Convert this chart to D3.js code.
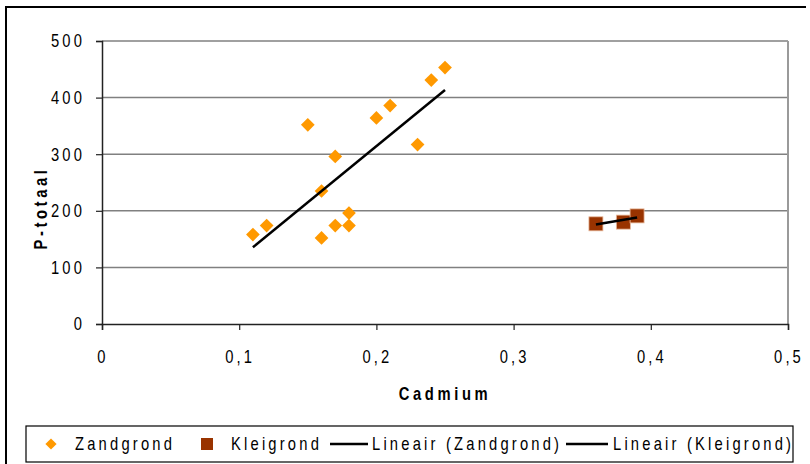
<!DOCTYPE html>
<html>
<head>
<meta charset="utf-8">
<script src="https://cdn.jsdelivr.net/npm/d3@7"></script>
<style>
  html, body { margin: 0; padding: 0; background: #fff; }
  svg { display: block; }
  text { font-family: "Liberation Sans", Arial, sans-serif; fill: #000; }
  .tick { font-size: 18px; letter-spacing: 3.8px; }
  .title { font-size: 18px; font-weight: bold; letter-spacing: 4.4px; }
  .leg { font-size: 18px; letter-spacing: 3.9px; }
</style>
</head>
<body>
<svg id="chart" width="810" height="464"></svg>
<script>
// Cadmium vs P-totaal, two soil types + linear trend per type
const zandCd = [0.11, 0.12, 0.15, 0.16, 0.16, 0.17, 0.17, 0.18, 0.18, 0.20, 0.21, 0.23, 0.24, 0.25];
const zandP  = [158,  174,  352,  235,  152,  296,  174,  196,  174,  364,  386,  317,  431,  453];
const kleiCd = [0.36, 0.38, 0.39];
const kleiP  = [177,  180,  191];

const xTicks      = [0, 0.1, 0.2, 0.3, 0.4, 0.5];
const xTickLabels = ['0', '0,1', '0,2', '0,3', '0,4', '0,5'];
const yTicks      = [0, 100, 200, 300, 400, 500];
const legendNames = ['Zandgrond', 'Kleigrond', 'Lineair (Zandgrond)', 'Lineair (Kleigrond)'];

const ORANGE = '#FF9900', BROWN = '#993300';
const L = 102, R = 788, T = 41, B = 324;
const NARROW = 0.82;   // squeeze Liberation Sans to look like Arial Narrow

const svg = d3.select('#chart');
const x = d3.scaleLinear().domain([0, 0.5]).range([L, R]);
const y = d3.scaleLinear().domain([0, 500]).range([B, T]);

// place a squeezed text; rot = optional rotation
const nt = (sel, px, py, rot) =>
  sel.attr('transform', (d, i) => {
    const X = typeof px === 'function' ? px(d, i) : px, Y = typeof py === 'function' ? py(d, i) : py;
    return `translate(${X},${Y})${rot ? ` rotate(${rot})` : ''} scale(${NARROW},1)`;
  });

// outer chart frame (cut off right/bottom in the original)
svg.append('path').attr('d', 'M806,7H6V464')
  .attr('fill', 'none').attr('stroke', '#000').attr('stroke-width', 2);

// gridlines + right border of plot area
svg.append('g').selectAll('line').data(yTicks.filter(v => v > 0)).join('line')
  .attr('x1', L).attr('x2', R).attr('y1', d => y(d)).attr('y2', d => y(d))
  .attr('stroke', '#808080').attr('stroke-width', 1.5);
svg.append('line').attr('x1', R).attr('x2', R).attr('y1', T).attr('y2', B)
  .attr('stroke', '#9a9a9a').attr('stroke-width', 2);

// axes
const yAxis = d3.axisLeft(y).tickValues(yTicks).tickSize(6).tickFormat('');
const xAxis = d3.axisBottom(x).tickValues(xTicks).tickSize(6).tickFormat('');
const gy = svg.append('g').attr('transform', `translate(${L},0)`).call(yAxis);
const gx = svg.append('g').attr('transform', `translate(0,${B})`).call(xAxis);
[gy, gx].forEach(g => {
  g.select('.domain').attr('stroke', '#222').attr('stroke-width', 1.5);
  g.selectAll('.tick line').attr('stroke', '#222').attr('stroke-width', 1.2);
});

// tick labels (comma decimals)
svg.append('g').selectAll('text').data(yTicks).join('text')
  .attr('class', 'tick').attr('text-anchor', 'end').attr('dy', '0.36em')
  .call(nt, 85, d => y(d))
  .text(d => d);
svg.append('g').selectAll('text').data(xTicks).join('text')
  .attr('class', 'tick').attr('text-anchor', 'middle')
  .call(nt, d => x(d) + 1, 363)
  .text((d, i) => xTickLabels[i]);

// axis titles
svg.append('text').attr('class', 'title').attr('text-anchor', 'middle')
  .call(nt, (L + R) / 2, 400).text('Cadmium');
svg.append('text').attr('class', 'title').attr('text-anchor', 'middle')
  .call(nt, 47, 208, -90).text('P-totaal');

// least-squares trend over the data's x range
function trend(xs, ys) {
  const mx = d3.mean(xs), my = d3.mean(ys);
  const sxy = d3.sum(xs, (v, i) => (v - mx) * (ys[i] - my));
  const sxx = d3.sum(xs, v => (v - mx) * (v - mx));
  const b = sxy / sxx, a = my - b * mx;
  const [x0, x1] = d3.extent(xs);
  return [[x0, a + b * x0], [x1, a + b * x1]];
}

const diamond = d3.symbol().type(d3.symbolDiamond2);
const zand = zandCd.map((v, i) => [v, zandP[i]]);
const klei = kleiCd.map((v, i) => [v, kleiP[i]]);

svg.append('g').selectAll('path').data(zand).join('path')
  .attr('d', diamond.size(120)())
  .attr('transform', d => `translate(${x(d[0])},${y(d[1])})`)
  .attr('fill', ORANGE);

svg.append('g').selectAll('rect').data(klei).join('rect')
  .attr('x', d => x(d[0]) - 7).attr('y', d => y(d[1]) - 7)
  .attr('width', 14).attr('height', 14)
  .attr('fill', BROWN).attr('stroke', '#e8b89a').attr('stroke-width', 0.8);

const line = d3.line().x(d => x(d[0])).y(d => y(d[1]));
svg.append('path').attr('d', line(trend(zandCd, zandP)))
  .attr('fill', 'none').attr('stroke', '#000').attr('stroke-width', 2.5);
svg.append('path').attr('d', line(trend(kleiCd, kleiP)))
  .attr('fill', 'none').attr('stroke', '#000').attr('stroke-width', 2.5);

// legend
const lg = svg.append('g');
lg.append('rect').attr('x', 26).attr('y', 426).attr('width', 767).attr('height', 36)
  .attr('fill', '#fff').attr('stroke', '#000').attr('stroke-width', 1.2);
const ly = 444;
lg.append('path').attr('d', diamond.size(80)()).attr('transform', `translate(51,${ly})`).attr('fill', ORANGE);
lg.append('rect').attr('x', 201).attr('y', ly - 6).attr('width', 12).attr('height', 12).attr('fill', BROWN);
lg.append('line').attr('x1', 330).attr('x2', 368).attr('y1', ly).attr('y2', ly).attr('stroke', '#000').attr('stroke-width', 2.5);
lg.append('line').attr('x1', 566).attr('x2', 608).attr('y1', ly).attr('y2', ly).attr('stroke', '#000').attr('stroke-width', 2.5);
const legX = [75, 231, 372, 613];
lg.selectAll('text.leg').data(legendNames).join('text')
  .attr('class', 'leg').attr('dy', '0.36em')
  .call(nt, (d, i) => legX[i], ly)
  .text(d => d);
</script>
</body>
</html>
